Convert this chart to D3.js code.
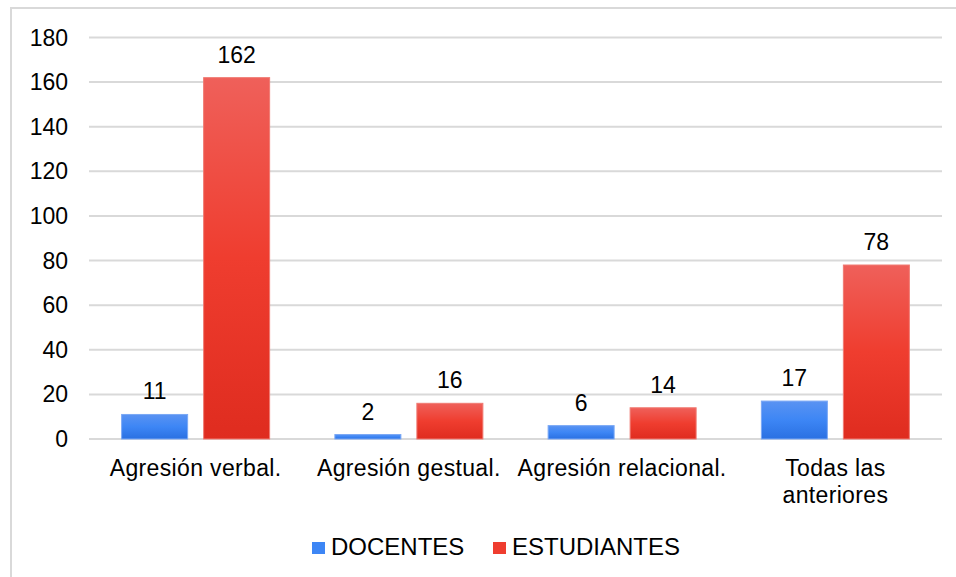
<!DOCTYPE html>
<html>
<head>
<meta charset="utf-8">
<script src="https://cdn.jsdelivr.net/npm/d3@7"></script>
<style>
  body { margin: 0; background: #fff; }
  svg text { font-family: "Liberation Sans", Arial, sans-serif; fill: #000; }
</style>
</head>
<body>
<svg id="chart" width="956" height="577"></svg>
<script>
var categories = [['Agresión verbal.'], ['Agresión gestual.'], ['Agresión relacional.'], ['Todas las', 'anteriores']];
var seriesNames = ['DOCENTES', 'ESTUDIANTES'];
var docentes = [11, 2, 6, 17];
var estudiantes = [162, 16, 14, 78];
var yTicks = [0, 20, 40, 60, 80, 100, 120, 140, 160, 180];

var svg = d3.select('#chart');

// gradients
var defs = svg.append('defs');
function grad(id, top, mid, bot) {
  var g = defs.append('linearGradient').attr('id', id)
    .attr('x1', 0).attr('y1', 0).attr('x2', 0).attr('y2', 1);
  g.append('stop').attr('offset', '0%').attr('stop-color', top);
  g.append('stop').attr('offset', '50%').attr('stop-color', mid);
  g.append('stop').attr('offset', '100%').attr('stop-color', bot);
}
grad('gBlue', '#5a93f2', '#3d86f5', '#2a70e2');
grad('gRed', '#ef605a', '#ef3d2f', '#df2c1f');

// outer border
svg.append('rect')
  .attr('x', 11).attr('y', 8).attr('width', 960).attr('height', 600)
  .attr('fill', 'none').attr('stroke', '#d9d9d9').attr('stroke-width', 2);

var x = d3.scaleBand().domain(d3.range(categories.length)).range([89, 942]);
var y = d3.scaleLinear().domain([0, 180]).range([439, 37.5]);

// gridlines
svg.append('g').selectAll('line').data(yTicks).enter().append('line')
  .attr('x1', 89).attr('x2', 942)
  .attr('y1', function(d){ return y(d); })
  .attr('y2', function(d){ return y(d); })
  .attr('stroke', '#d9d9d9').attr('stroke-width', 2);

// y tick labels
svg.append('g').selectAll('text').data(yTicks).enter().append('text')
  .attr('x', 68).attr('y', function(d){ return y(d) + 8; })
  .attr('text-anchor', 'end').attr('font-size', 23)
  .text(function(d){ return d; });

var barW = 66, gap = 16;
var series = [
  { name: seriesNames[0], values: docentes, fill: 'url(#gBlue)', stroke: '#7aa8f5', off: -gap/2 - barW },
  { name: seriesNames[1], values: estudiantes, fill: 'url(#gRed)', stroke: '#f07a72', off: gap/2 }
];

series.forEach(function(s) {
  var g = svg.append('g');
  g.selectAll('rect').data(s.values).enter().append('rect')
    .attr('x', function(d, i){ return x(i) + x.bandwidth()/2 + s.off; })
    .attr('y', function(d){ return y(d); })
    .attr('width', barW)
    .attr('height', function(d){ return y(0) - y(d); })
    .attr('fill', s.fill)
    .attr('stroke', s.stroke).attr('stroke-width', 1);
  g.selectAll('text').data(s.values).enter().append('text')
    .attr('x', function(d, i){ return x(i) + x.bandwidth()/2 + s.off + barW/2; })
    .attr('y', function(d){ return y(d) - 15; })
    .attr('text-anchor', 'middle').attr('font-size', 23)
    .text(function(d){ return d; });
});

// category labels
var cl = svg.append('g').selectAll('text').data(categories).enter().append('text')
  .attr('x', function(d, i){ return x(i) + x.bandwidth()/2; })
  .attr('y', 476)
  .attr('text-anchor', 'middle').attr('font-size', 23)
  .attr('letter-spacing', 0.35);
cl.selectAll('tspan').data(function(d){ return d; }).enter().append('tspan')
  .attr('x', function(){ return d3.select(this.parentNode).attr('x'); })
  .attr('dy', function(d, i){ return i === 0 ? 0 : 27; })
  .text(function(d){ return d; });

// legend
var legend = [
  { name: seriesNames[0], color: '#3d86f5', x: 312 },
  { name: seriesNames[1], color: '#ef3d2f', x: 493 }
];
var lg = svg.append('g').selectAll('g').data(legend).enter().append('g');
lg.append('rect')
  .attr('x', function(d){ return d.x; }).attr('y', 542)
  .attr('width', 13).attr('height', 12)
  .attr('fill', function(d){ return d.color; });
lg.append('text')
  .attr('x', function(d){ return d.x + 19; }).attr('y', 555)
  .attr('font-size', 24)
  .text(function(d){ return d.name; });
</script>
</body>
</html>
